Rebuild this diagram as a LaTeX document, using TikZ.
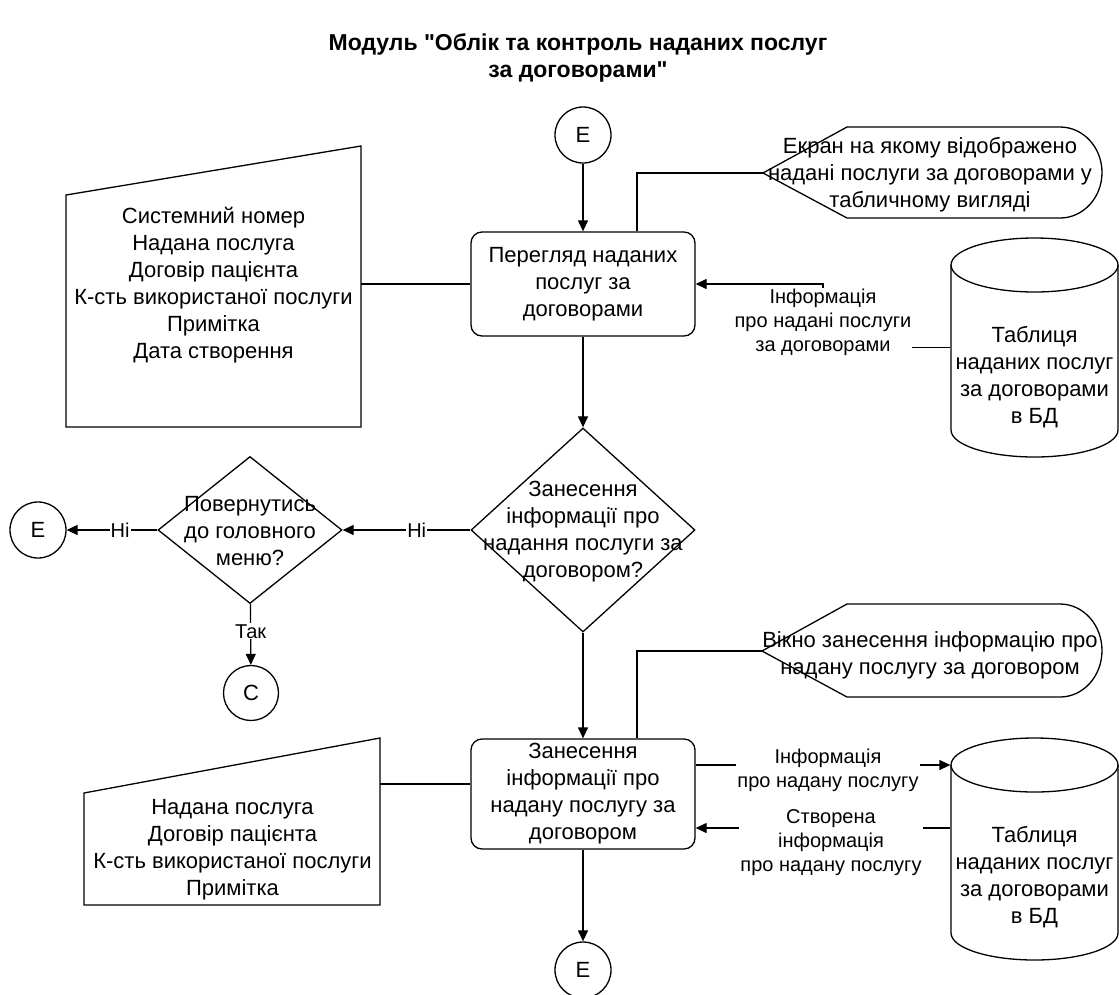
\documentclass[tikz,border=0pt]{standalone}
\usepackage{fontspec}
\setmainfont{Liberation Sans}[Ligatures=TeXOff]
\usetikzlibrary{arrows.meta,shapes.geometric,calc}

\begin{document}
\begin{tikzpicture}[x=1pt,y=1pt,
  line width=1.3pt,
  every node/.style={font=\fontsize{22}{27}\selectfont, align=center, inner sep=0pt},
  arr/.style={-{Triangle[length=11pt,width=10pt]}},
  conn/.style={draw, circle, minimum size=56pt},
  proc/.style={draw, rounded corners=11pt, minimum width=224pt},
  lbl/.style={fill=white, font=\fontsize{20}{24}\selectfont, inner sep=1pt},
  dec/.style={draw, diamond, inner sep=0pt},
]
\useasboundingbox (0,0) rectangle (1119,-994);

% title
\node[font=\bfseries\fontsize{23}{27}\selectfont] (title) at (578,-58)
  {Модуль "Облік та контроль наданих послуг\\за договорами"};

% main flow
\node[conn] (eTop) at (583,-135) {E};
\node[proc, minimum height=104pt] (p1) at (583,-284) {Перегляд наданих\\послуг за\\договорами};
\node[dec, minimum width=224pt, minimum height=204pt] (d1) at (583,-530) {};
\node (d1t) at (583,-532) {Занесення\\інформації про\\надання послуги за\\договором?};
\node[proc, minimum height=110pt] (p2) at (583,-794) {Занесення\\інформації про\\надану послугу за\\договором};
\node[conn] (eBot) at (583,-970) {E};

% return branch
\node[dec, minimum width=184pt, minimum height=147pt] (d2) at (250,-530) {};
\node (d2t) at (250,-531) {Повернутись\\до головного\\меню?};
\node[conn] (eLeft) at (38,-530) {E};
\node[conn, minimum size=55pt] (cC) at (251,-693) {C};

% manual input: viewed fields
\draw (66,-195) -- (361,-146) -- (361,-427) -- (66,-427) -- cycle;
\node (in1) at (213.5,-285) {Системний номер\\Надана послуга\\Договір пацієнта\\К-сть використаної послуги\\Примітка\\Дата створення};
\coordinate (in1e) at (361,-284);

% manual input: entered fields
\draw (84,-793) -- (380,-738) -- (380,-905) -- (84,-905) -- cycle;
\node (in2) at (232.5,-850) {Надана послуга\\Договір пацієнта\\К-сть використаної послуги\\Примітка};
\coordinate (in2e) at (380,-784);

% display shapes
\draw (763,-173) -- (847,-127) -- (1060,-127)
  arc[start angle=90,end angle=-90,x radius=42,y radius=45.5] -- (847,-218) -- cycle;
\node (scr1) at (930,-175) {Екран на якому відображено\\надані послуги за договорами у\\табличному вигляді};
\coordinate (scr1p) at (763,-173);

\draw (762,-651) -- (847,-604) -- (1060,-604)
  arc[start angle=90,end angle=-90,x radius=42,y radius=46.5] -- (847,-697) -- cycle;
\node (scr2) at (930,-655) {Вікно занесення інформацію про\\надану послугу за договором};
\coordinate (scr2p) at (762,-651);

% database tables
\draw (951,-265) -- (951,-430) arc[start angle=180,end angle=360,x radius=83.5,y radius=27]
  -- (1118,-265) arc[start angle=0,end angle=180,x radius=83.5,y radius=27];
\draw (951,-265) arc[start angle=180,end angle=360,x radius=83.5,y radius=27];
\node[minimum width=167pt, minimum height=219pt] (db1) at (1034.5,-347.5) {};
\node (db1t) at (1034.5,-377) {Таблиця\\наданих послуг\\за договорами\\в БД};

\draw (951,-765) -- (951,-933) arc[start angle=180,end angle=360,x radius=83.5,y radius=27]
  -- (1118,-765) arc[start angle=0,end angle=180,x radius=83.5,y radius=27];
\draw (951,-765) arc[start angle=180,end angle=360,x radius=83.5,y radius=27];
\node[minimum width=167pt, minimum height=222pt] (db2) at (1034.5,-849) {};
\node (db2t) at (1034.5,-877) {Таблиця\\наданих послуг\\за договорами\\в БД};

% connectors
\draw[arr] (eTop) -- (p1);
\draw[arr] (p1) -- (d1);
\draw[arr] (d1) -- node[lbl, pos=0.42] {Ні} (d2);
\draw[arr] (d2) -- node[lbl, pos=0.41] {Ні} (eLeft);
\draw[arr] (d2) -- node[lbl, pos=0.45] {Так} (cC);
\draw[arr] (d1) -- (p2);
\draw[arr] (p2) -- (eBot);

\draw (in1e) -- (p1.west |- in1e);
\draw (in2e) -- (p2.west |- in2e);
\draw (scr1p) -| ([xshift=54pt]p1.north);
\draw (scr2p) -| ([xshift=54pt]p2.north);

\coordinate (k1) at (823,-322);
\draw[arr] (db1.west) -| (k1) |- (p1.east);
\node[lbl] (lab1) at (k1) {Інформація\\про надані послуги\\за договорами};

\draw[arr] ([yshift=29pt]p2.east) -- ([yshift=84pt]db2.west);
\node[lbl] (lab2) at (828,-770) {Інформація\\про надану послугу};
\draw[arr] ([yshift=21pt]db2.west) -- ([yshift=-34pt]p2.east);
\node[lbl] (lab3) at (831,-843) {Створена\\інформація\\про надану послугу};
\end{tikzpicture}
\end{document}
